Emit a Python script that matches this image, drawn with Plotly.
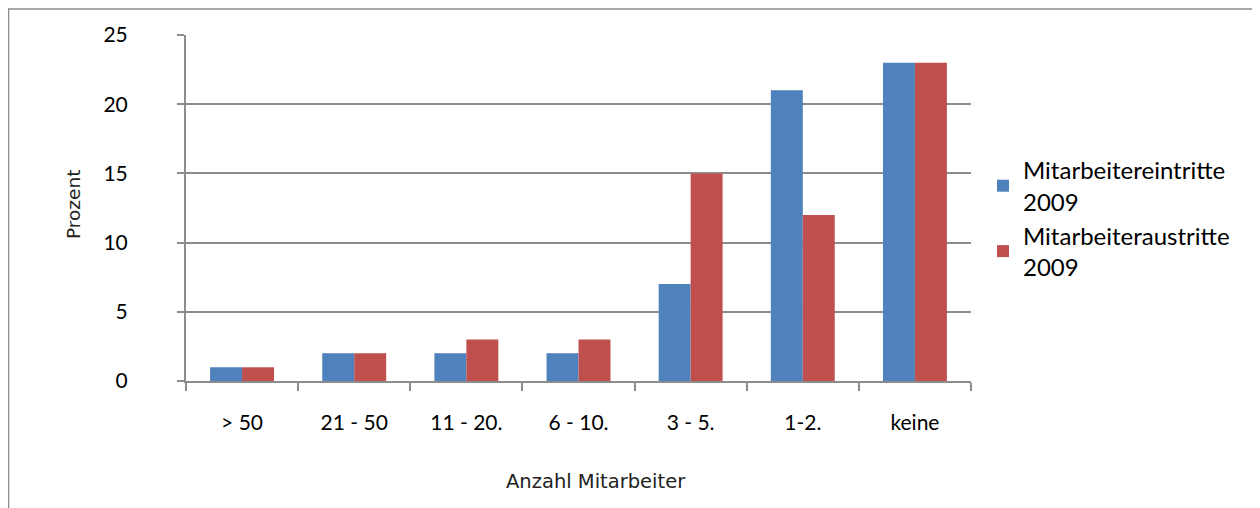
import plotly.graph_objects as go

categories = ["> 50", "21 - 50", "11 - 20.", "6 - 10.", "3 - 5.", "1-2.", "keine"]
eintritte = [1, 2, 2, 2, 7, 21, 23]
austritte = [1, 2, 3, 3, 15, 12, 23]
series_names = ["Mitarbeitereintritte<br>2009", "Mitarbeiteraustritte<br>2009"]
y_ticks = [0, 5, 10, 15, 20, 25]
x_title = "Anzahl Mitarbeiter"
y_title = "Prozent"

FONT = "Lato, 'Open Sans', sans-serif"
TFONT = "'DejaVu Sans', 'Liberation Sans', sans-serif"
OFF = 8  # page body margin
W, H = 1260 - OFF, 508 - OFF
L, R, T, B = 186 - OFF, 971 - OFF, 35 - OFF, 381 - OFF
pw, ph = R - L, B - T

fig = go.Figure()
fig.add_trace(go.Bar(x=categories, y=eintritte, name=series_names[0],
                     marker=dict(color="#4F81BD", line=dict(width=0))))
fig.add_trace(go.Bar(x=categories, y=austritte, name=series_names[1],
                     marker=dict(color="#C0504D", line=dict(width=0))))

def px(x):
    return (x - OFF - L) / pw

def py(y):
    return (B - (y - OFF)) / ph

fig.add_shape(type="rect", xref="paper", yref="paper",
              x0=px(8.5), x1=px(1258), y0=py(520), y1=py(9),
              line=dict(color="#8c8c8c", width=1.5), layer="below")

fig.add_annotation(text=x_title, xref="paper", yref="paper",
                   x=px(596), y=py(482), xanchor="center", yanchor="middle",
                   showarrow=False, font=dict(size=19.5, family=TFONT, color="#222"))
fig.add_annotation(text=y_title, xref="paper", yref="paper",
                   x=px(73), y=py(205), xanchor="center", yanchor="middle",
                   textangle=-90,
                   showarrow=False, font=dict(size=18.5, family=TFONT, color="#222"))

fig.update_layout(
    width=W, height=H,
    margin=dict(l=L, r=W - R, t=T, b=H - B),
    paper_bgcolor="white", plot_bgcolor="white",
    barmode="group", bargap=0.43, bargroupgap=0,
    font=dict(family=FONT, color="black", size=21),
    showlegend=True,
    legend=dict(x=px(983), y=py(148), xanchor="left", yanchor="top",
                font=dict(size=24, family=FONT, color="black"),
                tracegroupgap=18, itemwidth=30, bgcolor="rgba(0,0,0,0)"),
    xaxis=dict(
        showline=True, linecolor="#8c8c8c", linewidth=2,
        ticks="outside", tickson="boundaries", ticklen=8, tickcolor="#8c8c8c", tickwidth=2,
        tickfont=dict(size=21, family=FONT),
        ticklabelstandoff=22,
        showgrid=False,
    ),
    yaxis=dict(
        range=[0, 25], tickvals=y_ticks,
        showline=True, linecolor="#8c8c8c", linewidth=2,
        ticks="outside", ticklen=7, tickcolor="#8c8c8c", tickwidth=1.5,
        ticklabelstandoff=45,
        showgrid=True, gridcolor="#8c8c8c", gridwidth=1.5,
        zeroline=False,
        tickfont=dict(size=21, family=FONT),
    ),
)

fig.write_html("out.html")
